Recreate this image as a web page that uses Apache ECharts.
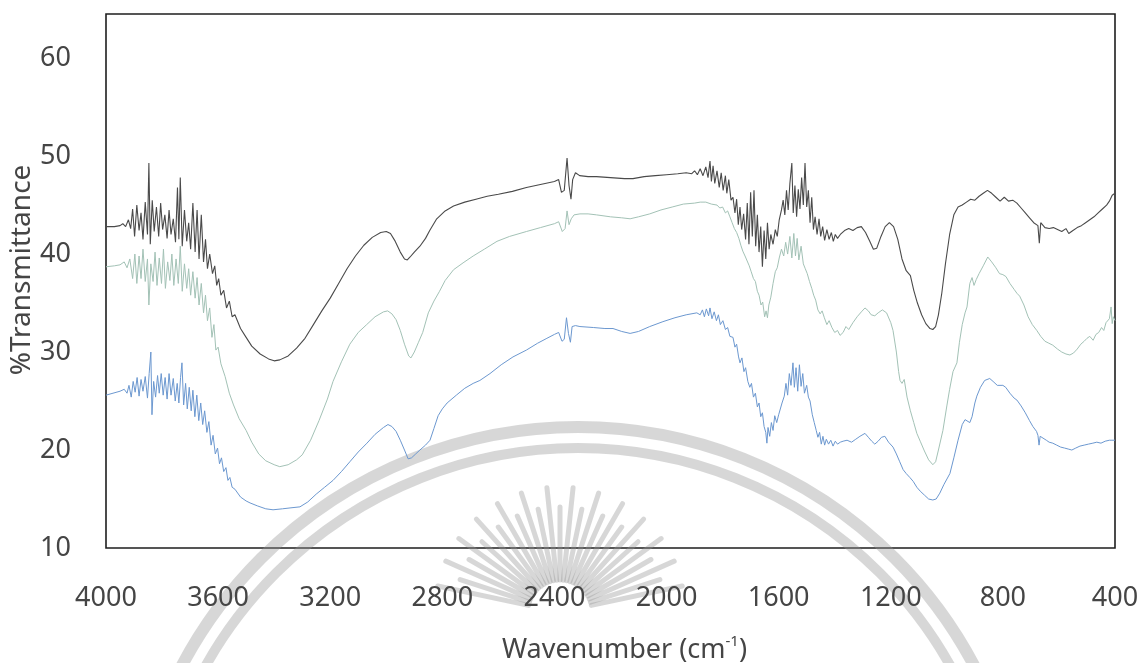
<!DOCTYPE html>
<html>
<head>
<meta charset="utf-8">
<script src="https://cdn.jsdelivr.net/npm/echarts@6/dist/echarts.min.js"></script>
<style>
  html, body { margin: 0; padding: 0; background: #ffffff; }
  #chart { width: 1140px; height: 663px; }
</style>
</head>
<body>
<div id="chart"></div>
<script>
// FT-IR spectra: [wavenumber (cm-1), %T]
const spectrumTop = [
  [4000,42.8],[3970,42.8],[3950,42.9],[3940,43.1],[3930,42.8],[3920,43.5],[3912,42.6],[3905,44.6],[3898,41.8],[3890,45.0],
  [3882,42.4],[3875,44.2],[3868,41.5],[3860,45.3],[3852,42.0],[3847,49.3],[3842,41.0],[3835,45.5],[3828,42.3],[3820,44.8],
  [3812,41.8],[3805,45.2],[3798,42.5],[3790,44.0],[3782,41.6],[3775,44.5],[3768,42.0],[3760,43.6],[3752,41.2],[3745,46.8],
  [3740,41.5],[3735,47.8],[3728,40.8],[3720,44.5],[3712,41.3],[3705,43.2],[3698,40.5],[3690,45.2],[3682,40.2],[3675,44.5],
  [3668,39.5],[3660,44.0],[3652,39.2],[3645,41.5],[3638,38.5],[3630,40.0],[3620,38.0],[3612,38.8],[3605,36.8],[3598,37.5],
  [3590,35.8],[3580,36.3],[3570,34.5],[3560,35.2],[3550,33.6],[3540,33.8],[3520,32.4],[3500,31.5],[3480,30.6],[3450,29.8],
  [3420,29.3],[3400,29.1],[3380,29.2],[3350,29.6],[3320,30.4],[3290,31.4],[3260,32.8],[3230,34.2],[3200,35.5],[3170,37.0],
  [3140,38.5],[3110,39.8],[3080,40.9],[3050,41.7],[3020,42.2],[3000,42.3],[2985,42.1],[2970,41.4],[2950,40.2],[2935,39.5],
  [2925,39.4],[2915,39.7],[2900,40.2],[2880,40.8],[2860,41.6],[2845,42.4],[2820,43.6],[2790,44.4],[2760,44.9],[2720,45.3],
  [2680,45.6],[2640,45.9],[2600,46.1],[2550,46.4],[2500,46.8],[2450,47.1],[2400,47.4],[2385,47.6],[2375,46.3],[2365,46.5],
  [2355,49.8],[2348,47.0],[2341,45.6],[2335,47.6],[2325,48.3],[2310,48.0],[2280,47.9],[2250,47.9],[2200,47.8],[2150,47.7],
  [2120,47.7],[2080,47.9],[2040,48.0],[2000,48.1],[1960,48.2],[1930,48.3],[1910,48.2],[1900,48.5],[1890,48.1],[1880,48.7],
  [1870,48.0],[1860,48.9],[1852,47.8],[1845,49.5],[1840,47.4],[1834,49.0],[1828,47.2],[1820,48.5],[1812,46.8],[1805,48.3],
  [1798,46.5],[1790,48.0],[1785,46.2],[1778,47.6],[1770,45.5],[1763,45.8],[1756,44.2],[1750,45.6],[1744,43.0],[1738,44.8],
  [1732,42.5],[1725,44.1],[1718,41.5],[1712,45.2],[1706,41.0],[1700,46.3],[1694,41.8],[1688,46.5],[1682,40.8],[1676,44.0],
  [1670,40.2],[1664,42.8],[1658,38.7],[1652,42.4],[1646,39.5],[1640,43.2],[1634,40.5],[1628,42.0],[1620,41.0],[1612,42.5],
  [1605,41.8],[1598,43.5],[1590,44.5],[1584,45.5],[1578,44.0],[1572,46.5],[1566,44.5],[1560,47.2],[1553,49.3],[1548,44.2],
  [1542,47.0],[1536,43.8],[1530,46.6],[1524,44.6],[1518,47.8],[1512,45.0],[1506,49.3],[1500,44.8],[1494,46.5],[1488,43.2],
  [1482,45.8],[1476,42.5],[1470,43.8],[1463,42.0],[1456,43.6],[1450,41.8],[1443,42.8],[1436,41.4],[1428,42.5],[1420,41.5],
  [1412,42.2],[1405,41.3],[1398,42.0],[1390,41.6],[1380,42.0],[1365,42.4],[1350,42.6],[1335,42.4],[1320,42.7],[1305,42.8],
  [1290,42.2],[1275,41.3],[1262,40.5],[1250,40.6],[1235,41.8],[1220,42.8],[1205,43.2],[1190,42.8],[1175,41.5],[1160,39.5],
  [1145,38.3],[1130,37.8],[1118,36.3],[1105,35.0],[1090,33.8],[1075,32.9],[1060,32.4],[1050,32.3],[1040,32.6],[1030,33.8],
  [1018,36.0],[1005,39.0],[990,42.0],[975,44.0],[960,44.8],[945,45.0],[930,45.3],[915,45.6],[900,45.5],[885,45.9],
  [870,46.2],[855,46.5],[840,46.2],[825,45.8],[810,45.4],[795,45.8],[780,45.4],[765,45.5],[750,45.2],[735,44.7],
  [720,44.2],[705,43.7],[690,43.2],[675,42.9],[670,41.1],[665,43.2],[650,42.7],[635,42.6],[620,42.7],[605,42.5],
  [590,42.3],[575,42.6],[565,42.1],[550,42.4],[535,42.7],[520,42.9],[505,43.2],[490,43.5],[475,43.8],[460,44.2],
  [445,44.6],[430,45.0],[420,45.4],[410,46.0],[400,46.2]
];

const spectrumMiddle = [
  [4000,38.7],[3970,38.8],[3950,38.9],[3935,39.2],[3925,38.6],[3915,39.5],[3905,37.5],[3897,40.0],[3890,37.0],[3882,39.8],
  [3875,37.5],[3868,40.5],[3860,37.2],[3852,39.5],[3847,34.8],[3840,39.0],[3832,37.2],[3825,40.2],[3818,36.8],[3810,39.6],
  [3802,37.0],[3795,40.5],[3788,36.5],[3780,39.2],[3772,37.3],[3765,40.0],[3758,36.8],[3750,39.5],[3742,37.0],[3735,40.8],
  [3728,36.2],[3720,39.0],[3712,36.5],[3705,38.5],[3698,35.8],[3690,38.2],[3682,35.5],[3675,37.6],[3668,34.8],[3660,37.0],
  [3652,34.0],[3645,35.8],[3638,33.2],[3630,34.5],[3622,31.5],[3615,32.8],[3608,30.2],[3600,30.5],[3590,28.8],[3575,27.5],
  [3560,25.8],[3545,24.6],[3525,23.2],[3500,22.0],[3480,20.8],[3455,19.6],[3430,18.9],[3400,18.5],[3380,18.3],[3350,18.5],
  [3320,19.0],[3300,19.5],[3270,21.0],[3240,23.0],[3210,25.2],[3190,27.0],[3160,29.0],[3130,30.8],[3100,32.0],[3070,32.8],
  [3040,33.6],[3010,34.1],[2995,34.2],[2980,33.9],[2965,33.3],[2950,32.2],[2935,30.8],[2920,29.6],[2912,29.4],[2900,30.0],
  [2885,31.0],[2870,32.0],[2850,34.0],[2830,35.2],[2810,36.2],[2790,37.3],[2760,38.4],[2726,39.1],[2690,39.8],[2650,40.5],
  [2605,41.3],[2560,41.8],[2500,42.3],[2450,42.7],[2400,43.1],[2385,43.3],[2372,42.3],[2362,42.6],[2355,44.4],[2348,43.0],
  [2340,43.6],[2330,44.0],[2309,44.1],[2280,44.1],[2250,44.0],[2200,43.8],[2160,43.7],[2130,43.6],[2100,43.8],[2060,44.1],
  [2020,44.5],[1980,44.8],[1940,45.1],[1900,45.2],[1880,45.3],[1860,45.3],[1840,45.1],[1820,45.0],[1810,44.7],[1800,44.8],
  [1790,44.2],[1782,44.4],[1774,43.8],[1766,43.2],[1758,42.6],[1750,42.2],[1742,41.6],[1735,40.9],[1728,40.3],[1720,39.8],
  [1713,39.8],[1705,38.8],[1698,38.2],[1690,37.5],[1683,37.2],[1676,36.2],[1670,35.8],[1663,34.8],[1657,35.1],[1650,33.6],
  [1645,34.2],[1640,33.5],[1635,34.8],[1628,35.6],[1620,37.0],[1612,38.2],[1605,38.6],[1598,39.6],[1590,40.5],[1582,39.8],
  [1575,41.2],[1568,40.0],[1560,41.8],[1553,39.6],[1546,42.1],[1540,39.8],[1534,41.6],[1528,39.4],[1520,40.8],[1512,39.0],
  [1505,38.5],[1498,38.0],[1490,37.2],[1482,36.5],[1475,35.8],[1468,35.3],[1460,34.3],[1452,33.9],[1445,34.2],[1437,33.5],
  [1428,32.8],[1420,33.2],[1410,32.5],[1400,32.0],[1390,32.2],[1381,31.7],[1370,32.0],[1360,32.6],[1350,32.3],[1335,33.0],
  [1320,33.6],[1305,34.1],[1292,34.5],[1280,34.2],[1270,33.8],[1257,33.7],[1245,34.0],[1230,34.3],[1215,34.0],[1200,33.0],
  [1192,32.2],[1180,30.0],[1172,28.0],[1167,27.1],[1160,26.8],[1152,27.2],[1142,25.4],[1130,24.0],[1118,22.8],[1107,21.7],
  [1095,20.9],[1080,19.9],[1065,19.0],[1050,18.5],[1040,18.8],[1030,20.0],[1014,22.0],[1000,24.5],[990,26.2],[978,28.0],
  [964,28.9],[955,31.0],[945,32.8],[935,34.0],[928,34.6],[918,37.0],[910,37.6],[903,36.8],[895,37.4],[885,38.0],
  [870,38.8],[854,39.7],[840,39.2],[825,38.6],[812,38.0],[800,37.9],[789,37.7],[775,37.0],[760,36.4],[750,36.0],
  [740,35.7],[725,34.8],[710,33.6],[695,32.8],[679,32.2],[665,31.6],[650,31.1],[636,30.9],[622,30.7],[605,30.3],
  [590,30.0],[575,29.8],[561,29.7],[548,29.9],[535,30.3],[522,30.8],[510,31.1],[500,31.4],[490,31.6],[478,31.2],
  [468,31.8],[458,32.0],[448,32.5],[440,32.2],[432,33.0],[426,32.8],[420,33.4],[414,34.6],[410,32.9],[406,33.6],[400,33.2]
];

const spectrumBottom = [
  [4000,25.6],[3975,25.8],[3950,26.0],[3935,26.2],[3925,25.8],[3918,26.6],[3910,25.4],[3903,27.0],[3896,25.9],[3889,27.4],
  [3882,25.5],[3875,27.2],[3868,26.0],[3860,27.5],[3852,25.3],[3846,27.8],[3840,30.0],[3836,23.6],[3830,27.0],[3823,25.4],
  [3816,27.6],[3810,25.8],[3803,27.8],[3796,25.6],[3789,27.4],[3782,25.2],[3775,27.8],[3768,25.6],[3760,27.3],[3753,25.0],
  [3746,26.8],[3740,24.8],[3734,27.4],[3729,28.9],[3723,24.6],[3716,26.8],[3710,24.2],[3703,26.4],[3696,24.0],[3690,26.1],
  [3683,23.4],[3676,25.6],[3669,23.0],[3662,24.8],[3655,22.6],[3648,24.0],[3640,21.8],[3633,22.9],[3625,20.5],[3618,21.5],
  [3610,19.6],[3602,20.2],[3595,18.6],[3588,19.2],[3580,17.8],[3572,18.2],[3565,16.9],[3558,17.2],[3550,16.2],[3540,16.0],
  [3520,15.2],[3500,14.8],[3486,14.6],[3460,14.3],[3430,14.0],[3404,13.9],[3370,14.0],[3340,14.1],[3308,14.2],[3280,14.7],
  [3250,15.5],[3220,16.2],[3190,16.9],[3160,17.8],[3130,18.8],[3100,19.8],[3069,20.7],[3040,21.6],[3010,22.3],[2994,22.6],
  [2980,22.4],[2965,21.9],[2950,21.0],[2935,20.0],[2922,19.1],[2910,19.2],[2895,19.6],[2880,20.0],[2860,20.5],[2844,21.0],
  [2830,22.2],[2815,23.5],[2800,24.2],[2783,24.8],[2750,25.6],[2720,26.3],[2690,26.8],[2666,27.1],[2630,27.8],[2590,28.7],
  [2548,29.5],[2500,30.2],[2460,30.9],[2427,31.4],[2400,31.8],[2385,32.0],[2373,31.1],[2365,31.3],[2357,33.5],[2350,31.9],
  [2343,31.0],[2337,32.6],[2325,32.7],[2309,32.6],[2260,32.5],[2220,32.4],[2191,32.4],[2160,32.1],[2130,31.9],[2100,32.1],
  [2060,32.6],[2013,33.1],[1970,33.5],[1930,33.8],[1892,34.0],[1880,33.8],[1872,34.3],[1865,33.6],[1858,34.4],[1850,33.7],
  [1845,34.5],[1838,33.4],[1830,34.1],[1822,33.2],[1815,33.8],[1808,32.8],[1799,33.2],[1790,32.3],[1782,32.5],[1774,31.6],
  [1763,31.5],[1756,30.5],[1750,30.8],[1743,29.5],[1738,28.9],[1731,29.4],[1724,28.0],[1718,28.4],[1710,27.0],[1703,26.4],
  [1697,26.8],[1690,25.4],[1683,25.8],[1676,24.4],[1670,24.8],[1664,23.4],[1658,23.8],[1652,22.4],[1646,21.8],[1642,20.7],
  [1638,22.3],[1632,21.4],[1626,22.8],[1620,22.0],[1614,23.5],[1607,22.8],[1600,23.6],[1595,23.8],[1588,24.8],[1580,25.5],
  [1574,26.8],[1568,25.6],[1562,27.8],[1556,26.6],[1549,28.9],[1544,26.4],[1538,28.4],[1532,26.0],[1526,28.7],[1520,26.5],
  [1514,27.8],[1508,25.8],[1500,26.6],[1494,25.4],[1488,25.0],[1480,23.6],[1473,22.8],[1466,22.0],[1460,21.3],[1454,21.8],
  [1448,20.6],[1442,21.4],[1436,20.5],[1430,21.1],[1422,20.6],[1414,21.0],[1406,20.4],[1398,20.9],[1390,20.6],[1380,20.8],
  [1370,20.9],[1356,21.0],[1340,20.8],[1325,21.1],[1310,21.4],[1292,21.7],[1280,21.3],[1268,20.9],[1257,20.6],[1245,20.9],
  [1233,21.3],[1221,21.4],[1208,20.8],[1192,20.3],[1180,19.6],[1168,18.8],[1156,18.0],[1145,17.6],[1132,17.2],[1120,16.8],
  [1107,16.2],[1095,15.8],[1080,15.4],[1065,15.0],[1050,14.9],[1038,15.0],[1025,15.6],[1010,16.5],[989,17.6],[975,19.2],
  [960,21.0],[945,22.6],[935,23.1],[928,23.1],[918,22.8],[910,23.4],[900,24.8],[893,25.5],[880,26.4],[865,27.1],
  [847,27.3],[835,27.0],[820,26.6],[800,26.6],[790,26.4],[775,25.8],[760,25.3],[750,25.1],[735,24.5],[720,23.8],
  [705,23.0],[693,22.4],[680,21.9],[675,21.5],[671,20.5],[667,21.4],[660,21.3],[645,21.0],[635,20.8],[622,20.7],
  [608,20.5],[594,20.3],[580,20.2],[567,20.1],[554,20.0],[540,20.2],[525,20.4],[510,20.5],[495,20.6],[479,20.7],
  [465,20.8],[450,20.7],[435,20.9],[420,21.0],[411,21.0],[405,21.2],[400,21.0]
];

const xTicks = { min: 400, max: 4000, step: 400 };
const yTicks = { min: 10, max: 64.5, step: 10 };

const FONT = '"Noto Sans", "Open Sans", sans-serif';
const TEXT = '#454545';

// Faint emblem behind the plot: two arcs and a ring of rays
const emblem = [];
const emblemColor = 'rgba(150,150,150,0.38)';
emblem.push({
  type: 'arc', silent: true, z: 0,
  shape: { cx: 578, cy: 875, r: 448, startAngle: Math.PI, endAngle: 2 * Math.PI },
  style: { stroke: emblemColor, lineWidth: 12, fill: null }
});
emblem.push({
  type: 'arc', silent: true, z: 0,
  shape: { cx: 578, cy: 875, r: 427, startAngle: Math.PI, endAngle: 2 * Math.PI },
  style: { stroke: emblemColor, lineWidth: 10, fill: null }
});
for (let a = 192; a <= 348; a += 6) {
  const rad = a * Math.PI / 180;
  const r1 = 32, r2 = (a % 12 === 0) ? 125 : 105;
  emblem.push({
    type: 'line', silent: true, z: 0,
    shape: {
      x1: 560 + r1 * Math.cos(rad), y1: 612 + r1 * Math.sin(rad),
      x2: 560 + r2 * Math.cos(rad), y2: 612 + r2 * Math.sin(rad)
    },
    style: { stroke: emblemColor, lineWidth: 5, lineCap: 'round' }
  });
}

const chart = echarts.init(document.getElementById('chart'), null, { renderer: 'canvas' });
chart.setOption({
  animation: false,
  backgroundColor: '#ffffff',
  graphic: emblem,
  grid: {
    left: 106, right: 25, top: 14, bottom: 115,
    containLabel: false, outerBoundsMode: 'none',
    show: true, borderColor: '#1e1e1e', borderWidth: 1.6, backgroundColor: 'transparent'
  },
  xAxis: {
    type: 'value',
    inverse: true,
    min: xTicks.min, max: xTicks.max, interval: xTicks.step,
    axisLine: { show: false }, axisTick: { show: false }, splitLine: { show: false },
    axisLabel: { margin: 37, fontSize: 27, color: TEXT, fontFamily: FONT, formatter: v => String(v) },
    name: '{t|Wavenumber (cm}{s|-1}{t|)}',
    nameLocation: 'middle',
    nameGap: 86,
    nameMoveOverlap: false,
    nameTextStyle: {
      padding: [0, 0, 0, 28],
      rich: {
        t: { fontSize: 27, color: TEXT, fontFamily: FONT, lineHeight: 32 },
        s: { fontSize: 15, color: TEXT, fontFamily: FONT, lineHeight: 32, verticalAlign: 'top', padding: [0, 0, 10, 0] }
      }
    }
  },
  yAxis: {
    type: 'value',
    min: yTicks.min, max: yTicks.max, interval: yTicks.step,
    axisLine: { show: false }, axisTick: { show: false }, splitLine: { show: false },
    axisLabel: { margin: 35, fontSize: 27, color: TEXT, fontFamily: FONT, showMaxLabel: false },
    name: '%Transmittance',
    nameLocation: 'middle',
    nameGap: 70,
    nameMoveOverlap: false,
    nameTextStyle: { fontSize: 28, color: TEXT, fontFamily: FONT, padding: [0, 0, 0, 22] }
  },
  series: [
    {
      type: 'line', data: spectrumTop, showSymbol: false, z: 4,
      lineStyle: { color: '#4a4a4a', width: 1.1 }
    },
    {
      type: 'line', data: spectrumMiddle, showSymbol: false, z: 3,
      lineStyle: { color: '#a3c2b6', width: 1 }
    },
    {
      type: 'line', data: spectrumBottom, showSymbol: false, z: 2,
      lineStyle: { color: '#6c98d0', width: 1 }
    }
  ]
});
</script>
</body>
</html>
